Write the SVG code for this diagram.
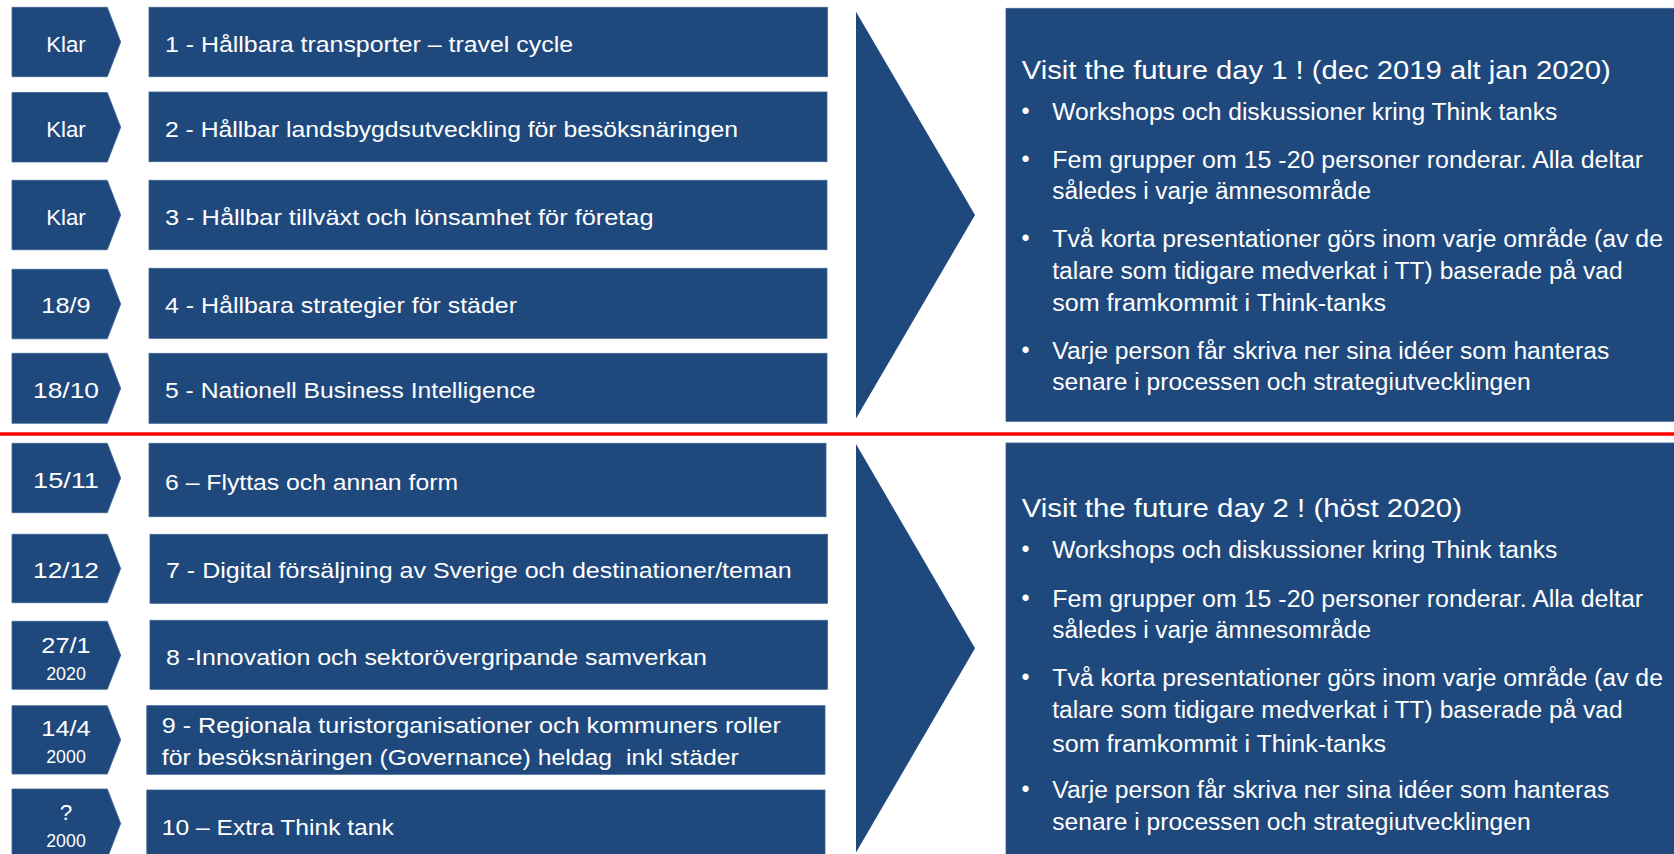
<svg xmlns="http://www.w3.org/2000/svg" width="1674" height="854" viewBox="0 0 1674 854">
<style>
.shape{fill:#1F497D;stroke:#3D6392;stroke-width:0.8}
.tri{fill:#1F497D}
.t{font-family:"Liberation Sans",Arial,sans-serif;fill:#FFFFFF;font-size:22px}
.c{font-family:"Liberation Sans",Arial,sans-serif;fill:#FFFFFF;font-size:22.5px;text-anchor:middle}
.cs{font-family:"Liberation Sans",Arial,sans-serif;fill:#FFFFFF;font-size:18.5px;text-anchor:middle}
.h{font-family:"Liberation Sans",Arial,sans-serif;fill:#FFFFFF;font-size:26.5px}
.b{font-family:"Liberation Sans",Arial,sans-serif;fill:#FFFFFF;font-size:23px}
.bu{font-family:"Liberation Sans",Arial,sans-serif;fill:#FFFFFF;font-size:23px;text-anchor:middle}
</style>
<rect width="1674" height="854" fill="#FFFFFF"/>

<g id="row1">
<path class="shape" d="M12,7.3 L107.3,7.3 L120.7,42 L107.3,76.7 L12,76.7 Z"/>
<text class="c" x="66" y="51.7" textLength="39.6" lengthAdjust="spacingAndGlyphs">Klar</text>
<rect class="shape" x="149" y="7.3" width="678.5" height="69.4"/>
<text class="t" x="165" y="51.7" textLength="408" lengthAdjust="spacingAndGlyphs">1 - Hållbara transporter – travel cycle</text>
</g>
<g id="row2">
<path class="shape" d="M12,92.5 L107.3,92.5 L120.7,127.2 L107.3,162 L12,162 Z"/>
<text class="c" x="66" y="136.7" textLength="39.6" lengthAdjust="spacingAndGlyphs">Klar</text>
<rect class="shape" x="149" y="92" width="678" height="69.7"/>
<text class="t" x="165" y="136.7" textLength="573" lengthAdjust="spacingAndGlyphs">2 - Hållbar landsbygdsutveckling för besöksnäringen</text>
</g>
<g id="row3">
<path class="shape" d="M12,180.3 L107.3,180.3 L120.7,215 L107.3,249.7 L12,249.7 Z"/>
<text class="c" x="66" y="225" textLength="39.6" lengthAdjust="spacingAndGlyphs">Klar</text>
<rect class="shape" x="149" y="180.3" width="678" height="69.4"/>
<text class="t" x="165" y="225" textLength="488.5" lengthAdjust="spacingAndGlyphs">3 - Hållbar tillväxt och lönsamhet för företag</text>
</g>
<g id="row4">
<path class="shape" d="M12,269.3 L107.3,269.3 L120.7,304 L107.3,338.8 L12,338.8 Z"/>
<text class="c" x="66" y="313.3" textLength="49.3" lengthAdjust="spacingAndGlyphs">18/9</text>
<rect class="shape" x="149" y="268.3" width="678" height="70"/>
<text class="t" x="165" y="313.3" textLength="352" lengthAdjust="spacingAndGlyphs">4 - Hållbara strategier för städer</text>
</g>
<g id="row5">
<path class="shape" d="M12,353.3 L107.3,353.3 L120.7,388.3 L107.3,423.3 L12,423.3 Z"/>
<text class="c" x="66" y="398.3" textLength="65.9" lengthAdjust="spacingAndGlyphs">18/10</text>
<rect class="shape" x="149" y="353.3" width="678" height="70"/>
<text class="t" x="165" y="398.3" textLength="370.6" lengthAdjust="spacingAndGlyphs">5 - Nationell Business Intelligence</text>
</g>

<g id="divider">
<line x1="0" y1="434" x2="1674" y2="434" stroke="#FF0000" stroke-width="3.5"/>
</g>

<g id="row6">
<path class="shape" d="M12,443.3 L107.3,443.3 L120.7,478 L107.3,512.7 L12,512.7 Z"/>
<text class="c" x="66" y="488.3" textLength="65.9" lengthAdjust="spacingAndGlyphs">15/11</text>
<rect class="shape" x="149" y="443.3" width="677" height="73.4"/>
<text class="t" x="165" y="490" textLength="293" lengthAdjust="spacingAndGlyphs">6 – Flyttas och annan form</text>
</g>
<g id="row7">
<path class="shape" d="M12,534.3 L107.3,534.3 L120.7,568.5 L107.3,602.7 L12,602.7 Z"/>
<text class="c" x="66" y="577.7" textLength="65.9" lengthAdjust="spacingAndGlyphs">12/12</text>
<rect class="shape" x="150" y="534.3" width="677.5" height="69"/>
<text class="t" x="166" y="577.7" textLength="625.6" lengthAdjust="spacingAndGlyphs">7 - Digital försäljning av Sverige och destinationer/teman</text>
</g>
<g id="row8">
<path class="shape" d="M12,621.3 L107.3,621.3 L120.7,655.3 L107.3,689.3 L12,689.3 Z"/>
<text class="c" x="66" y="652.7" textLength="49.3" lengthAdjust="spacingAndGlyphs">27/1</text>
<text class="cs" x="66" y="680" textLength="39.6" lengthAdjust="spacingAndGlyphs">2020</text>
<rect class="shape" x="150" y="620.3" width="677.5" height="69"/>
<text class="t" x="166" y="665" textLength="541" lengthAdjust="spacingAndGlyphs">8 -Innovation och sektorövergripande samverkan</text>
</g>
<g id="row9">
<path class="shape" d="M12,705.7 L107.3,705.7 L120.7,739.8 L107.3,774 L12,774 Z"/>
<text class="c" x="66" y="736" textLength="49.3" lengthAdjust="spacingAndGlyphs">14/4</text>
<text class="cs" x="66" y="763.3" textLength="39.6" lengthAdjust="spacingAndGlyphs">2000</text>
<rect class="shape" x="146.8" y="705.7" width="678.2" height="68.6"/>
<text class="t" x="161.8" y="733.3" textLength="619" lengthAdjust="spacingAndGlyphs">9 - Regionala turistorganisationer och kommuners roller</text>
<text class="t" x="161.8" y="765" textLength="577" lengthAdjust="spacingAndGlyphs" style="white-space:pre" xml:space="preserve">för besöksnäringen (Governance) heldag  inkl städer</text>
</g>
<g id="row10">
<path class="shape" d="M12,789 L107.3,789 L120.7,823.5 L107.3,858 L12,858 Z"/>
<text class="c" x="66" y="820">?</text>
<text class="cs" x="66" y="846.7" textLength="39.6" lengthAdjust="spacingAndGlyphs">2000</text>
<rect class="shape" x="146.8" y="790" width="678.2" height="70"/>
<text class="t" x="161.8" y="835" textLength="232" lengthAdjust="spacingAndGlyphs">10 – Extra Think tank</text>
</g>

<g id="connectors">
<path class="tri" d="M856,11.7 L975,215 L856,418.5 Z"/>
<path class="tri" d="M856,444 L975,648.3 L856,852.5 Z"/>
</g>

<g id="day1">
<rect class="shape" x="1006" y="8.3" width="680" height="413"/>
<text class="h" x="1021.7" y="79" textLength="589" lengthAdjust="spacingAndGlyphs">Visit the future day 1 ! (dec 2019 alt jan 2020)</text>
<text class="bu" x="1025.5" y="119">•</text>
<text class="b" x="1052.3" y="120" textLength="505" lengthAdjust="spacingAndGlyphs">Workshops och diskussioner kring Think tanks</text>
<text class="bu" x="1025.5" y="166.7">•</text>
<text class="b" x="1052.3" y="167.7" textLength="590.8" lengthAdjust="spacingAndGlyphs">Fem grupper om 15 -20 personer ronderar. Alla deltar</text>
<text class="b" x="1052.3" y="199.3" textLength="318.7" lengthAdjust="spacingAndGlyphs">således i varje ämnesområde</text>
<text class="bu" x="1025.5" y="245.7">•</text>
<text class="b" x="1052.3" y="246.7" textLength="610.6" lengthAdjust="spacingAndGlyphs">Två korta presentationer görs inom varje område (av de</text>
<text class="b" x="1052.3" y="279.3" textLength="570.4" lengthAdjust="spacingAndGlyphs">talare som tidigare medverkat i TT) baserade på vad</text>
<text class="b" x="1052.3" y="311" textLength="333.7" lengthAdjust="spacingAndGlyphs">som framkommit i Think-tanks</text>
<text class="bu" x="1025.5" y="358.3">•</text>
<text class="b" x="1052.3" y="359.3" textLength="557" lengthAdjust="spacingAndGlyphs">Varje person får skriva ner sina idéer som hanteras</text>
<text class="b" x="1052.3" y="390" textLength="478.3" lengthAdjust="spacingAndGlyphs">senare i processen och strategiutvecklingen</text>
</g>

<g id="day2">
<rect class="shape" x="1006" y="443" width="680" height="420"/>
<text class="h" x="1021.7" y="517.3" textLength="440.3" lengthAdjust="spacingAndGlyphs">Visit the future day 2 ! (höst 2020)</text>
<text class="bu" x="1025.5" y="557.3">•</text>
<text class="b" x="1052.3" y="558.3" textLength="505" lengthAdjust="spacingAndGlyphs">Workshops och diskussioner kring Think tanks</text>
<text class="bu" x="1025.5" y="605.7">•</text>
<text class="b" x="1052.3" y="606.7" textLength="590.8" lengthAdjust="spacingAndGlyphs">Fem grupper om 15 -20 personer ronderar. Alla deltar</text>
<text class="b" x="1052.3" y="638.3" textLength="318.7" lengthAdjust="spacingAndGlyphs">således i varje ämnesområde</text>
<text class="bu" x="1025.5" y="684.7">•</text>
<text class="b" x="1052.3" y="685.7" textLength="610.6" lengthAdjust="spacingAndGlyphs">Två korta presentationer görs inom varje område (av de</text>
<text class="b" x="1052.3" y="718.3" textLength="570.4" lengthAdjust="spacingAndGlyphs">talare som tidigare medverkat i TT) baserade på vad</text>
<text class="b" x="1052.3" y="751.7" textLength="333.7" lengthAdjust="spacingAndGlyphs">som framkommit i Think-tanks</text>
<text class="bu" x="1025.5" y="797.3">•</text>
<text class="b" x="1052.3" y="798.3" textLength="557" lengthAdjust="spacingAndGlyphs">Varje person får skriva ner sina idéer som hanteras</text>
<text class="b" x="1052.3" y="830" textLength="478.3" lengthAdjust="spacingAndGlyphs">senare i processen och strategiutvecklingen</text>
</g>
</svg>
